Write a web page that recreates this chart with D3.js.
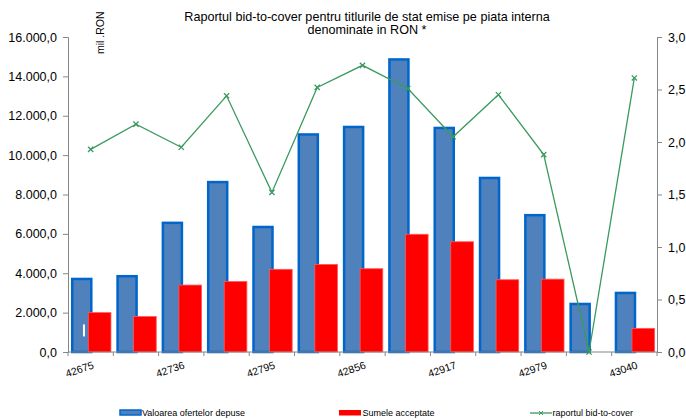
<!DOCTYPE html>
<html>
<head>
<meta charset="utf-8">
<script src="https://cdn.jsdelivr.net/npm/d3@7"></script>
<style>
  html, body { margin: 0; padding: 0; background: #fff; }
  svg { display: block; font-family: "Liberation Sans", Arial, sans-serif; }
</style>
</head>
<body>
<svg id="chart" width="686" height="420"></svg>
<script>
// Monthly auction dates (Excel serial numbers), Nov 2016 – Nov 2017
const categories = [42675, 42705, 42736, 42767, 42795, 42826, 42856, 42887, 42917, 42948, 42979, 43009, 43040];
// Value of bids submitted (mil. RON)
const oferte = [3710, 3850, 6560, 8630, 6350, 11050, 11430, 14860, 11380, 8840, 6950, 2440, 3000];
// Amounts accepted (mil. RON)
const acceptate = [2000, 1800, 3400, 3580, 4200, 4450, 4230, 5980, 5600, 3670, 3700, 0, 1200];
// Bid-to-cover ratio
const bidToCover = [1.93, 2.17, 1.95, 2.44, 1.52, 2.52, 2.73, 2.51, 2.05, 2.45, 1.88, 0, 2.61];

const leftTicks = [0, 2000, 4000, 6000, 8000, 10000, 12000, 14000, 16000];
const rightTicks = [0, 0.5, 1, 1.5, 2, 2.5, 3];
const labelledCategories = categories.filter((d, i) => i % 2 === 0);

const titleLines = ["Raportul bid-to-cover pentru titlurile de stat emise pe piata interna", "denominate in RON *"];
const legendItems = ["Valoarea ofertelor depuse", "Sumele acceptate", "raportul bid-to-cover"];

const roLocale = d3.formatLocale({ decimal: ",", thousands: ".", grouping: [3], currency: ["", ""] });
const fmtLeft = roLocale.format(",.1f");
const fmtRight = roLocale.format(".1f");

const svg = d3.select("#chart");
const plotLeft = 68, plotRight = 657, plotTop = 37, plotBottom = 352;
const axisColor = "#868686";
const blueFill = "#4f81bd", blueStroke = "#0066cc";
const redFill = "#ff0000";
const green = "#3a9a5e";

const x = d3.scaleBand().domain(categories).range([plotLeft, plotRight]).padding(0);
const yL = d3.scaleLinear().domain([0, 16000]).range([plotBottom, plotTop]);
const yR = d3.scaleLinear().domain([0, 3]).range([plotBottom, plotTop]);
const bw = x.bandwidth();

// Title
const title = svg.append("text")
  .attr("x", 367).attr("y", 20.5)
  .attr("text-anchor", "middle")
  .attr("font-size", 12.6)
  .attr("fill", "#000");
titleLines.forEach((t, i) => {
  title.append("tspan").attr("x", 367).attr("dy", i === 0 ? 0 : 13.5).text(t);
});

// Unit label
svg.append("text")
  .attr("transform", "translate(104,54) rotate(-90)")
  .attr("font-size", 10.5)
  .attr("fill", "#000")
  .text("mil .RON");

// Bars: bids submitted
svg.append("g").selectAll("rect")
  .data(categories)
  .join("rect")
  .attr("x", (d) => x(d) + bw * 0.094)
  .attr("width", bw * 0.42)
  .attr("y", (d, i) => yL(oferte[i]))
  .attr("height", (d, i) => plotBottom - yL(oferte[i]))
  .attr("fill", blueFill)
  .attr("stroke", blueStroke)
  .attr("stroke-width", 2.5);

// Small white marker inside the first bar
svg.append("rect")
  .attr("x", x(categories[0]) + bw * 0.33)
  .attr("y", yL(1400))
  .attr("width", 2)
  .attr("height", 12)
  .attr("fill", "#fff");

// Bars: amounts accepted
svg.append("g").selectAll("rect")
  .data(categories)
  .join("rect")
  .attr("x", (d) => x(d) + bw * 0.448)
  .attr("width", bw * 0.5)
  .attr("y", (d, i) => yL(acceptate[i]))
  .attr("height", (d, i) => plotBottom - yL(acceptate[i]))
  .attr("fill", redFill)
  .attr("stroke", "#ff5a5a")
  .attr("stroke-width", 0.8)
  .attr("display", (d, i) => acceptate[i] > 0 ? null : "none");

// Left axis
const gL = svg.append("g").attr("transform", `translate(${plotLeft},0)`)
  .call(d3.axisLeft(yL).tickValues(leftTicks).tickFormat(fmtLeft).tickSize(5).tickPadding(6));
gL.select(".domain").attr("stroke", axisColor);
gL.selectAll(".tick line").attr("stroke", axisColor);
gL.selectAll(".tick text").attr("font-size", 12.5).attr("fill", "#000")
  .attr("font-family", "Liberation Sans, Arial, sans-serif");

// Right axis
const gR = svg.append("g").attr("transform", `translate(${plotRight},0)`)
  .call(d3.axisRight(yR).tickValues(rightTicks).tickFormat(fmtRight).tickSize(5).tickPadding(6));
gR.select(".domain").attr("stroke", axisColor);
gR.selectAll(".tick line").attr("stroke", axisColor);
gR.selectAll(".tick text").attr("font-size", 12.5).attr("fill", "#000")
  .attr("font-family", "Liberation Sans, Arial, sans-serif");

// Category axis
const gX = svg.append("g");
gX.append("line")
  .attr("x1", plotLeft).attr("x2", plotRight)
  .attr("y1", plotBottom).attr("y2", plotBottom)
  .attr("stroke", axisColor);
gX.selectAll("line.tk")
  .data(categories.concat([null]))
  .join("line")
  .attr("class", "tk")
  .attr("x1", (d, i) => plotLeft + i * bw)
  .attr("x2", (d, i) => plotLeft + i * bw)
  .attr("y1", plotBottom).attr("y2", plotBottom + 4)
  .attr("stroke", axisColor);
gX.selectAll("text")
  .data(labelledCategories)
  .join("text")
  .attr("transform", (d) => `translate(${x(d) + bw / 2 + 1.5},${plotBottom + 9}) rotate(-19)`)
  .attr("text-anchor", "end")
  .attr("dy", "0.71em")
  .attr("font-size", 10.5)
  .attr("fill", "#000")
  .text((d) => d);

// Bid-to-cover line
const lineGen = d3.line()
  .x((d, i) => x(categories[i]) + bw / 2)
  .y((d) => yR(d));
svg.append("path")
  .datum(bidToCover)
  .attr("d", lineGen)
  .attr("fill", "none")
  .attr("stroke", green)
  .attr("stroke-width", 1.3);
const cross = (s) => `M${-s},${-s}L${s},${s}M${-s},${s}L${s},${-s}`;
svg.append("g").selectAll("path")
  .data(bidToCover)
  .join("path")
  .attr("transform", (d, i) => `translate(${x(categories[i]) + bw / 2},${yR(d)})`)
  .attr("d", cross(2.6))
  .attr("stroke", green)
  .attr("stroke-width", 1.3)
  .attr("fill", "none");

// Legend
const legend = svg.append("g").attr("font-size", 9).attr("fill", "#000");
const lg0 = legend.append("g").attr("transform", "translate(120,410)");
lg0.append("rect").attr("width", 21).attr("height", 5).attr("fill", blueFill)
  .attr("stroke", blueStroke).attr("stroke-width", 1.5);
lg0.append("text").attr("x", 22).attr("y", 6).text(legendItems[0]);

const lg1 = legend.append("g").attr("transform", "translate(339,410)");
lg1.append("rect").attr("width", 22).attr("height", 5.5).attr("fill", redFill);
lg1.append("text").attr("x", 23.5).attr("y", 6).text(legendItems[1]);

const lg2 = legend.append("g").attr("transform", "translate(530,413)");
lg2.append("line").attr("x1", 0).attr("x2", 22).attr("y1", 0).attr("y2", 0)
  .attr("stroke", green).attr("stroke-width", 1.3);
lg2.append("path").attr("transform", "translate(11,0)").attr("d", cross(2))
  .attr("stroke", green).attr("stroke-width", 1);
lg2.append("text").attr("x", 22.5).attr("y", 3).text(legendItems[2]);
</script>
</body>
</html>
